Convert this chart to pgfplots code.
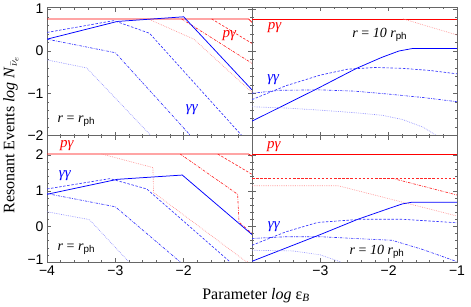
\documentclass[border=0pt]{standalone}
\usepackage{fontspec}
\setmainfont{Liberation Serif}
\setsansfont{Liberation Sans}
\usepackage{pgfplots}
\pgfplotsset{compat=1.18}
\tikzset{
 rs/.style={draw=red, line width=0.75pt},
 rd/.style={draw=red!85, line width=0.65pt, dash pattern=on 2.5pt off 1.6pt},
 rdd/.style={draw=red!85, line width=0.65pt, dash pattern=on 2.5pt off 1.2pt on 0.6pt off 1.2pt},
 rdt/.style={draw=red!45, line width=0.65pt, dash pattern=on 0.7pt off 1.1pt},
 bs/.style={draw=blue, line width=0.75pt},
 bd/.style={draw=blue!80, line width=0.65pt, dash pattern=on 2.5pt off 1.6pt},
 bdd/.style={draw=blue!80, line width=0.65pt, dash pattern=on 2.5pt off 1.2pt on 0.6pt off 1.2pt},
 bdt/.style={draw=blue!45, line width=0.65pt, dash pattern=on 0.7pt off 1.1pt},
 lab/.style={font=\fontsize{15}{15}\selectfont\itshape},
 rlab/.style={font=\fontsize{14}{14}\selectfont},
}
\pgfplotsset{panel/.style={
  scale only axis, width=205pt, xmin=-4, xmax=-1,
  xtick={-4,-3,-2,-1}, minor x tick num=4, minor y tick num=4,
  tick align=inside, major tick length=4pt, minor tick length=2pt,
  axis line style={black!60, line width=0.5pt},
  every tick/.style={black!60, line width=0.4pt},
  xticklabels={}, yticklabels={},
  tick label style={font=\fontsize{14}{14}\selectfont\sffamily},
  anchor=south west, clip=true,
}}
\begin{document}
\begin{tikzpicture}
\path[use as bounding box] (0pt,0pt) rectangle (471pt,306pt);
% top left
\begin{axis}[panel, at={(47pt,170.5pt)}, height=128pt, ymin=-2, ymax=1.03,
  ytick={-2,-1,0,1}, yticklabels={−2,−1,0,\raisebox{-3pt}{1}}]
\addplot[rs] coordinates {(-4,0.76) (-1.05,0.76) (-1,0.68)};
\addplot[rd] coordinates {(-1.59,0.76) (-1,0.18)};
\addplot[rdd] coordinates {(-2.03,0.76) (-1,-0.29)};
\addplot[rdt] coordinates {(-2.52,0.76) (-1.85,0.28) (-1,-0.98)};
\addplot[bs] coordinates {(-4,0.28) (-2.97,0.70) (-2.0,0.81) (-1,-0.92)};
\addplot[bd] coordinates {(-4,0.44) (-3.02,0.72) (-2.5,0.42) (-1.15,-2)};
\addplot[bdd] coordinates {(-4,0.28) (-3.0,-0.04) (-1.9,-2)};
\addplot[bdt] coordinates {(-4,-0.21) (-3.42,-0.40) (-2.48,-2)};
\node[lab, red] at (axis cs:-1.33,0.36) {pγ};
\node[lab, blue] at (axis cs:-1.88,-1.39) {γγ};
\node[rlab] at (axis cs:-3.57,-1.67) {\textit{r} = \textit{r}\textsubscript{\sffamily ph}};
\end{axis}
% top right
\begin{axis}[panel, at={(252pt,170.5pt)}, height=128pt, ymin=-2, ymax=1.03,
  ytick={-2,-1,0,1}]
\addplot[rs] coordinates {(-4,0.76) (-1,0.76)};
\addplot[rdt] coordinates {(-1.79,0.76) (-1,0.38)};
\addplot[bs] coordinates {(-4,-1.66) (-3.08,-0.92) (-2.47,-0.41) (-2.1,-0.15) (-1.85,0.0) (-1.65,0.06) (-1,0.06)};
\addplot[bd] coordinates {(-4,-1.15) (-3.5,-0.82) (-3,-0.57) (-2.6,-0.43) (-2.2,-0.39) (-1.8,-0.41) (-1.4,-0.46) (-1,-0.54)};
\addplot[bdd] coordinates {(-4,-1.0) (-3.6,-0.93) (-3.0,-0.92) (-2.5,-0.95) (-2,-1.02) (-1.5,-1.1) (-1,-1.2)};
\addplot[bdt] coordinates {(-4,-1.32) (-3.5,-1.35) (-3,-1.4) (-2.5,-1.46) (-2.1,-1.52) (-1.8,-1.62) (-1.5,-1.8) (-1.3,-2)};
\node[lab, red] at (axis cs:-3.67,0.56) {pγ};
\node[lab, blue] at (axis cs:-3.69,-0.68) {γγ};
\node[rlab] at (axis cs:-2.13,0.38) {\textit{r} = \textit{10 r}\textsubscript{\sffamily ph}};
\end{axis}
% bottom left
\begin{axis}[panel, at={(47pt,44pt)}, height=126.5pt, ymin=-1, ymax=2.55,
  ytick={-1,0,1,2}, yticklabels={\raisebox{4pt}{−1},0,1,2}, xticklabels={−4,−3,−2,{}}]
\addplot[rs] coordinates {(-4,2.03) (-1.05,2.03) (-1,1.97)};
\addplot[rd] coordinates {(-1.5,2.03) (-1,1.46)};
\addplot[rdd] coordinates {(-2.05,2.03) (-1.21,0.9) (-1.19,0.12) (-1,-0.2)};
\addplot[rdt] coordinates {(-3.2,2.03) (-2.45,1.65) (-2.44,0.95) (-1.1,-0.97) (-1.05,-1)};
\addplot[bs] coordinates {(-4,0.9) (-2.97,1.32) (-2.02,1.44) (-1,-0.23)};
\addplot[bd] coordinates {(-4,1.05) (-3.08,1.34) (-2.54,1.05) (-1.32,-1)};
\addplot[bdd] coordinates {(-4,0.92) (-3.0,0.55) (-2.05,-1)};
\addplot[bdt] coordinates {(-4,0.41) (-3.38,0.19) (-2.8,-1)};
\node[lab, red] at (axis cs:-3.71,2.27) {pγ};
\node[lab, blue] at (axis cs:-3.74,1.41) {γγ};
\node[rlab] at (axis cs:-3.57,-0.65) {\textit{r} = \textit{r}\textsubscript{\sffamily ph}};
\end{axis}
% bottom right
\begin{axis}[panel, at={(252pt,44pt)}, height=126.5pt, ymin=-1, ymax=2.55,
  ytick={-1,0,1,2}, xticklabels={{},−3,−2,−1}]
\addplot[rs] coordinates {(-4,2.03) (-1,2.03)};
\addplot[rd] coordinates {(-4,1.35) (-1,1.35)};
\addplot[rdd] coordinates {(-1.95,1.35) (-1,0.88)};
\addplot[rdt] coordinates {(-4,1.14) (-2.74,1.14) (-1,0.29)};
\addplot[bs] coordinates {(-4,-0.98) (-3,-0.23) (-2.45,0.2) (-2.0,0.5) (-1.8,0.63) (-1.65,0.68) (-1,0.68)};
\addplot[bd] coordinates {(-4,-0.53) (-3.5,-0.15) (-3.04,0.11) (-2.4,0.2) (-1.8,0.2) (-1,0.10)};
\addplot[bdd] coordinates {(-4,-0.34) (-3.5,-0.29) (-3,-0.29) (-2.5,-0.34) (-1.95,-0.39) (-1.5,-0.65) (-1,-0.99)};
\addplot[bdt] coordinates {(-4,-0.67) (-3.4,-0.69) (-3.0,-0.8) (-2.7,-1.0)};
\node[lab, red] at (axis cs:-3.68,2.23) {pγ};
\node[lab, blue] at (axis cs:-3.68,0.0) {γγ};
\node[rlab] at (axis cs:-2.17,-0.72) {\textit{r} = \textit{10 r}\textsubscript{\sffamily ph}};
\end{axis}
\node[rotate=90, font=\fontsize{16}{16}\selectfont] at (11pt,171pt) {Resonant Events \textit{log} \textit{N}$_{\bar{\nu}_e}$};
\node[anchor=base, font=\fontsize{16}{16}\selectfont] at (256pt,7pt) {Parameter \textit{log} ε\textsubscript{\textit{B}}};
\end{tikzpicture}
\end{document}
